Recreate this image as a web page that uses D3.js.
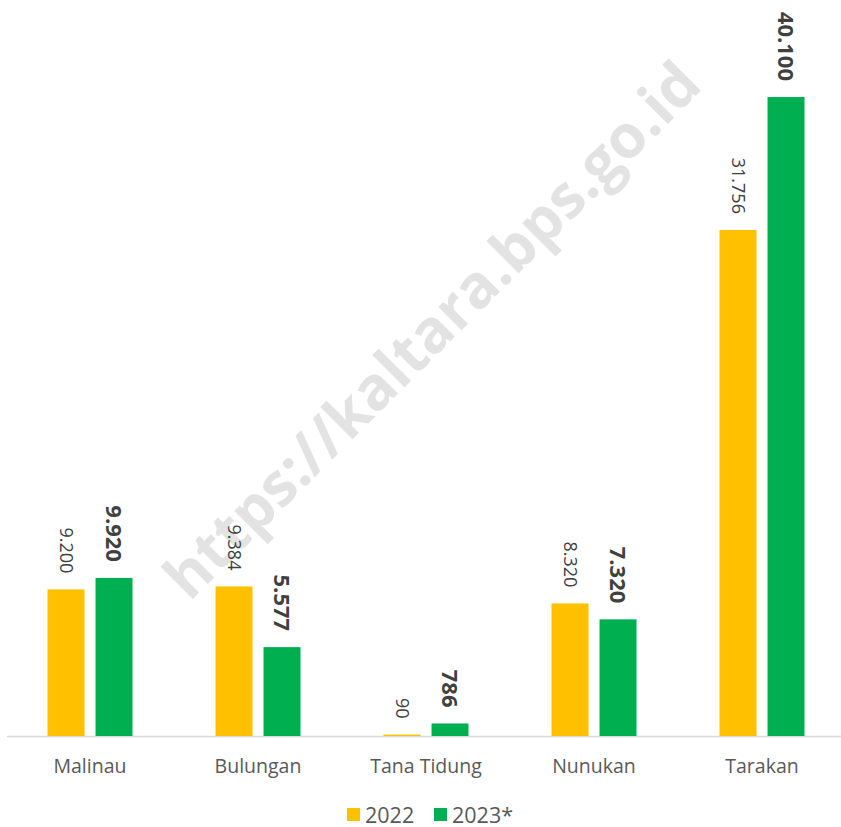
<!DOCTYPE html>
<html>
<head>
<meta charset="utf-8">
<script src="https://cdn.jsdelivr.net/npm/d3@7"></script>
<style>
  body { margin: 0; background: #fff; }
  svg { display: block; font-family: "Open Sans", sans-serif; }
</style>
</head>
<body>
<div id="chart"></div>
<script>
// data
const kabupaten = ["Malinau", "Bulungan", "Tana Tidung", "Nunukan", "Tarakan"];
const tahun = ["2022", "2023*"];
const nilai2022 = [9200, 9384, 90, 8320, 31756];
const nilai2023 = [9920, 5577, 786, 7320, 40100];
const warna = ["#FFC000", "#00B050"];

const width = 841, height = 827;
const x0 = 6, x1 = 846, yBase = 736, yTop = 97;

const svg = d3.select("#chart").append("svg")
    .attr("width", width)
    .attr("height", height);

// watermark
svg.append("text")
    .attr("transform", "translate(432,330) rotate(-45)")
    .attr("text-anchor", "middle")
    .attr("dy", "0.35em")
    .attr("font-size", 60)
    .attr("font-weight", "bold")
    .attr("fill", "#e3e3e3")
    .text("https://kaltara.bps.go.id");

const x = d3.scaleBand().domain(kabupaten).range([x0, x1]).paddingInner(0).paddingOuter(0);
const xSub = d3.scaleBand().domain(tahun).range([41.5, x.bandwidth() - 41.5]).paddingInner(0.23);
const y = d3.scaleLinear().domain([0, d3.max(nilai2023)]).range([yBase, yTop]);

const rows = kabupaten.map((k, i) => ({k: k, vals: [nilai2022[i], nilai2023[i]]}));
const fmt = v => d3.format(",")(v).replace(/,/g, ".");

// axis line
svg.append("line")
    .attr("x1", 7).attr("x2", width)
    .attr("y1", yBase + 0.5).attr("y2", yBase + 0.5)
    .attr("stroke", "#d9d9d9").attr("stroke-width", 1.5);

const grup = svg.selectAll("g.kab").data(rows).join("g")
    .attr("class", "kab")
    .attr("transform", d => "translate(" + x(d.k) + ",0)");

const bar = grup.selectAll("g.bar")
    .data(d => d.vals.map((v, j) => ({t: tahun[j], v: v, j: j})))
    .join("g").attr("class", "bar");

bar.append("rect")
    .attr("x", d => xSub(d.t))
    .attr("width", xSub.bandwidth())
    .attr("y", d => y(d.v))
    .attr("height", d => yBase - y(d.v))
    .attr("fill", d => warna[d.j]);

// value labels, rotated
bar.append("text")
    .attr("transform", d => "translate(" + (xSub(d.t) + xSub.bandwidth() / 2) + "," + (y(d.v) - 16) + ") rotate(90)")
    .attr("text-anchor", "end")
    .attr("dy", "0.35em")
    .attr("font-size", d => d.j ? 22 : 18)
    .attr("font-weight", d => d.j ? "bold" : "normal")
    .attr("fill", "#404040")
    .text(d => fmt(d.v));

// category labels
svg.append("g").selectAll("text").data(kabupaten).join("text")
    .attr("x", d => x(d) + x.bandwidth() / 2)
    .attr("y", 773)
    .attr("text-anchor", "middle")
    .attr("font-size", 19.5)
    .attr("fill", "#595959")
    .text(d => d);

// legend
const legX = [347, 434];
const leg = svg.append("g").selectAll("g").data(tahun).join("g")
    .attr("transform", (d, i) => "translate(" + legX[i] + ",808)");
leg.append("rect")
    .attr("width", 13).attr("height", 13)
    .attr("fill", (d, i) => warna[i]);
leg.append("text")
    .attr("x", 18).attr("y", 14.5)
    .attr("font-size", 21.5)
    .attr("fill", "#595959")
    .text(d => d);
</script>
</body>
</html>
